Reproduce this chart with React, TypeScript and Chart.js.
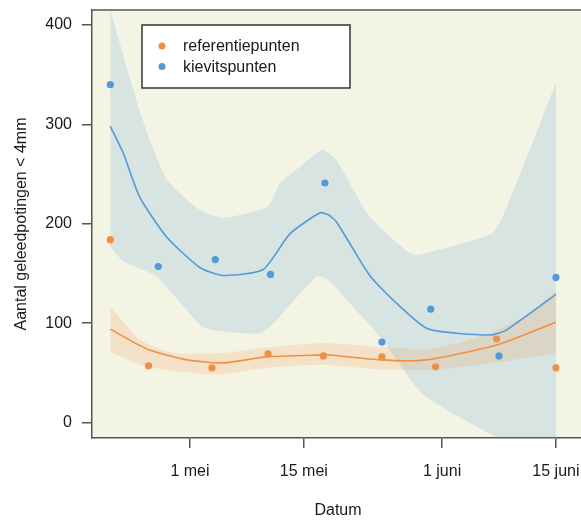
import React, { useEffect, useRef } from "react";
import { Chart, registerables } from "chart.js";

Chart.register(...registerables);

// x = days relative to 1 mei
const tickDays = [0, 14, 31, 45];
const tickLabels = ["1 mei", "15 mei", "1 juni", "15 juni"];
const yTickValues = [0, 100, 200, 300, 400];

const seriesNames = ["referentiepunten", "kievitspunten"];
const xTitle = "Datum";
const yTitle = "Aantal geleedpotingen < 4mm";

// observed points
const refDays = [-9.8, -5.1, 2.7, 9.6, 16.4, 23.6, 30.2, 37.7, 45.0];
const refValues = [184, 57, 55, 69, 67, 66, 56, 84, 55];
const kievDays = [-9.8, -3.9, 3.1, 9.9, 16.6, 23.6, 29.6, 38.0, 45.0];
const kievValues = [340, 157, 164, 149, 241, 81, 114, 67, 146];

// smoothed fit kievitspunten
const kievFitDays = [-9.8, -8.2, -6.2, -2.9, 1.2, 4.1, 9.0, 12.3, 16.0, 17.0, 18.0, 22.1, 25.4, 29.3, 36.9, 38.9, 45.0];
const kievFitValues = [298, 271, 227, 187, 156, 148, 154, 190, 211, 209, 202, 148, 120, 94, 88, 93, 129];
const kievUpperDays = [-9.8, -9.0, -5.8, -2.8, 1.2, 4.1, 9.5, 11.1, 13.5, 16.3, 18.0, 22.1, 27.4, 30.7, 37.2, 39.3, 45.0];
const kievUpperValues = [415, 392, 304, 244, 214, 206, 217, 241, 257, 274, 264, 207, 169, 174, 191, 224, 342];
const kievLowerDays = [-9.8, -8.2, -4.1, 1.6, 4.9, 9.0, 15.6, 17.2, 19.3, 23.4, 28.6, 37.3, 45.0];
const kievLowerValues = [177, 162, 147, 96, 91, 91, 147, 142, 123, 86, 29, -13, -40];

// smoothed fit referentiepunten
const refFitDays = [-9.8, -5.3, -0.4, 4.1, 9.4, 16.4, 17.2, 23.4, 29.1, 37.7, 45.0];
const refFitValues = [94, 74, 63, 60, 66, 68, 68, 63, 63, 78, 101];
const refUpperDays = [-9.8, -6.1, -2.0, 4.1, 9.0, 16.4, 23.4, 29.5, 35.6, 41.8, 45.0];
const refUpperValues = [117, 83, 70, 70, 75, 80, 76, 74, 86, 110, 133];
const refLowerDays = [-9.8, -5.3, 3.3, 9.4, 16.4, 23.4, 29.5, 35.6, 45.0];
const refLowerValues = [71, 56, 48, 55, 58, 53, 53, 58, 70];

const ORANGE = "rgb(241,143,67)";
const BLUE = "rgb(84,153,217)";
const FONT = "'Liberation Sans', Arial, sans-serif";

const pts = (xs: number[], ys: number[]) => xs.map((x, i) => ({ x, y: ys[i] }));

export default function App() {
  const ref = useRef<HTMLCanvasElement | null>(null);

  useEffect(() => {
    if (!ref.current) return;

    const bgPlugin = {
      id: "bg",
      beforeDraw(chart: any) {
        const { ctx, chartArea: a } = chart;
        ctx.save();
        ctx.fillStyle = "#ffffff";
        ctx.fillRect(0, 0, chart.width, chart.height);
        ctx.fillStyle = "#f4f4e5";
        ctx.fillRect(a.left, a.top, a.right - a.left, a.bottom - a.top);
        ctx.restore();
      },
      afterDraw(chart: any) {
        const { ctx, chartArea: a } = chart;
        ctx.save();
        ctx.strokeStyle = "#555";
        ctx.lineWidth = 1.5;
        ctx.beginPath();
        ctx.moveTo(a.left, a.top);
        ctx.lineTo(a.right, a.top);
        ctx.lineTo(a.right, a.bottom);
        ctx.stroke();
        // legend
        const lx = 142, ly = 25, lw = 208, lh = 63;
        ctx.fillStyle = "#ffffff";
        ctx.fillRect(lx, ly, lw, lh);
        ctx.strokeStyle = "#333";
        ctx.lineWidth = 1.5;
        ctx.strokeRect(lx, ly, lw, lh);
        const cols = [ORANGE, BLUE];
        ctx.font = `16px ${FONT}`;
        ctx.textBaseline = "middle";
        ctx.textAlign = "left";
        seriesNames.forEach((n, i) => {
          const y = 46 + i * 20.5;
          ctx.fillStyle = cols[i];
          ctx.beginPath();
          ctx.arc(162, y, 3.5, 0, Math.PI * 2);
          ctx.fill();
          ctx.fillStyle = "#1a1a1a";
          ctx.fillText(n, 183, y + 1);
        });
        ctx.restore();
      },
    };

    const lineDs = (label: string, data: any[], color: string, order: number) => ({
      label,
      data,
      showLine: true,
      borderColor: color,
      borderWidth: 1.6,
      pointRadius: 0,
      fill: false,
      tension: 0.2,
      order,
    });

    const chart = new Chart(ref.current, {
      type: "scatter",
      data: {
        datasets: [
          {
            label: "kiev upper",
            data: pts(kievUpperDays, kievUpperValues),
            showLine: true,
            borderWidth: 0,
            borderColor: "rgba(0,0,0,0)",
            backgroundColor: "rgba(84,153,217,0.18)",
            pointRadius: 0,
            fill: "+1",
            tension: 0.2,
            order: 5,
          },
          {
            label: "kiev lower",
            data: pts(kievLowerDays, kievLowerValues),
            showLine: true,
            borderWidth: 0,
            borderColor: "rgba(0,0,0,0)",
            pointRadius: 0,
            fill: false,
            tension: 0.2,
            order: 5,
          },
          {
            label: "ref upper",
            data: pts(refUpperDays, refUpperValues),
            showLine: true,
            borderWidth: 0,
            borderColor: "rgba(0,0,0,0)",
            backgroundColor: "rgba(241,143,67,0.18)",
            pointRadius: 0,
            fill: "+1",
            tension: 0.2,
            order: 4,
          },
          {
            label: "ref lower",
            data: pts(refLowerDays, refLowerValues),
            showLine: true,
            borderWidth: 0,
            borderColor: "rgba(0,0,0,0)",
            pointRadius: 0,
            fill: false,
            tension: 0.2,
            order: 4,
          },
          lineDs("kiev fit", pts(kievFitDays, kievFitValues), BLUE, 2),
          lineDs("ref fit", pts(refFitDays, refFitValues), ORANGE, 2),
          {
            label: seriesNames[1],
            data: pts(kievDays, kievValues),
            backgroundColor: BLUE,
            borderWidth: 0,
            pointRadius: 3.6,
            order: 1,
          },
          {
            label: seriesNames[0],
            data: pts(refDays, refValues),
            backgroundColor: ORANGE,
            borderWidth: 0,
            pointRadius: 3.6,
            order: 0,
          },
        ] as any,
      },
      options: {
        responsive: false,
        animation: false,
        devicePixelRatio: 1,
        layout: { autoPadding: false, padding: { top: 10, left: 0, right: 0, bottom: 0 } } as any,
        plugins: { legend: { display: false }, tooltip: { enabled: false } },
        scales: {
          x: {
            type: "linear",
            min: -12.05,
            max: 48.45,
            afterFit(s: any) {
              s.height = 82;
              s.paddingLeft = 0;
              s.paddingRight = 0;
            },
            afterBuildTicks(s: any) {
              s.ticks = tickDays.map((v) => ({ value: v }));
            },
            ticks: {
              autoSkip: false,
              maxRotation: 0,
              padding: 14,
              color: "#1a1a1a",
              font: { family: FONT, size: 16 },
              callback: (v: any) => {
                const i = tickDays.indexOf(Number(v));
                return i >= 0 ? tickLabels[i] : "";
              },
            },
            grid: { drawOnChartArea: false, drawTicks: true, tickLength: 10, color: "#555", lineWidth: 1.5 },
            border: { display: true, color: "#555", width: 1.5 },
            title: { display: true, text: xTitle, color: "#1a1a1a", font: { family: FONT, size: 16 }, padding: { top: 0, bottom: 0 } },
          },
          y: {
            type: "linear",
            min: -15.6,
            max: 415.1,
            afterFit(s: any) {
              s.width = 92;
              s.paddingTop = 0;
              s.paddingBottom = 0;
            },
            afterBuildTicks(s: any) {
              s.ticks = yTickValues.map((v) => ({ value: v }));
            },
            ticks: {
              autoSkip: false,
              padding: 10,
              color: "#1a1a1a",
              font: { family: FONT, size: 16 },
              callback: (v: any) => String(v),
            },
            grid: { drawOnChartArea: false, drawTicks: true, tickLength: 10, color: "#555", lineWidth: 1.5 },
            border: { display: true, color: "#555", width: 1.5 },
            title: { display: true, text: yTitle, color: "#1a1a1a", font: { family: FONT, size: 16 }, padding: { top: 12, bottom: 0 } },
          },
        },
      } as any,
      plugins: [bgPlugin],
    });

    return () => chart.destroy();
  }, []);

  return (
    <div style={{ position: "absolute", left: 0, top: 0, width: 581, height: 520, overflow: "hidden", background: "#fff" }}>
      <canvas ref={ref} width={584} height={520} style={{ display: "block" }} />
    </div>
  );
}
